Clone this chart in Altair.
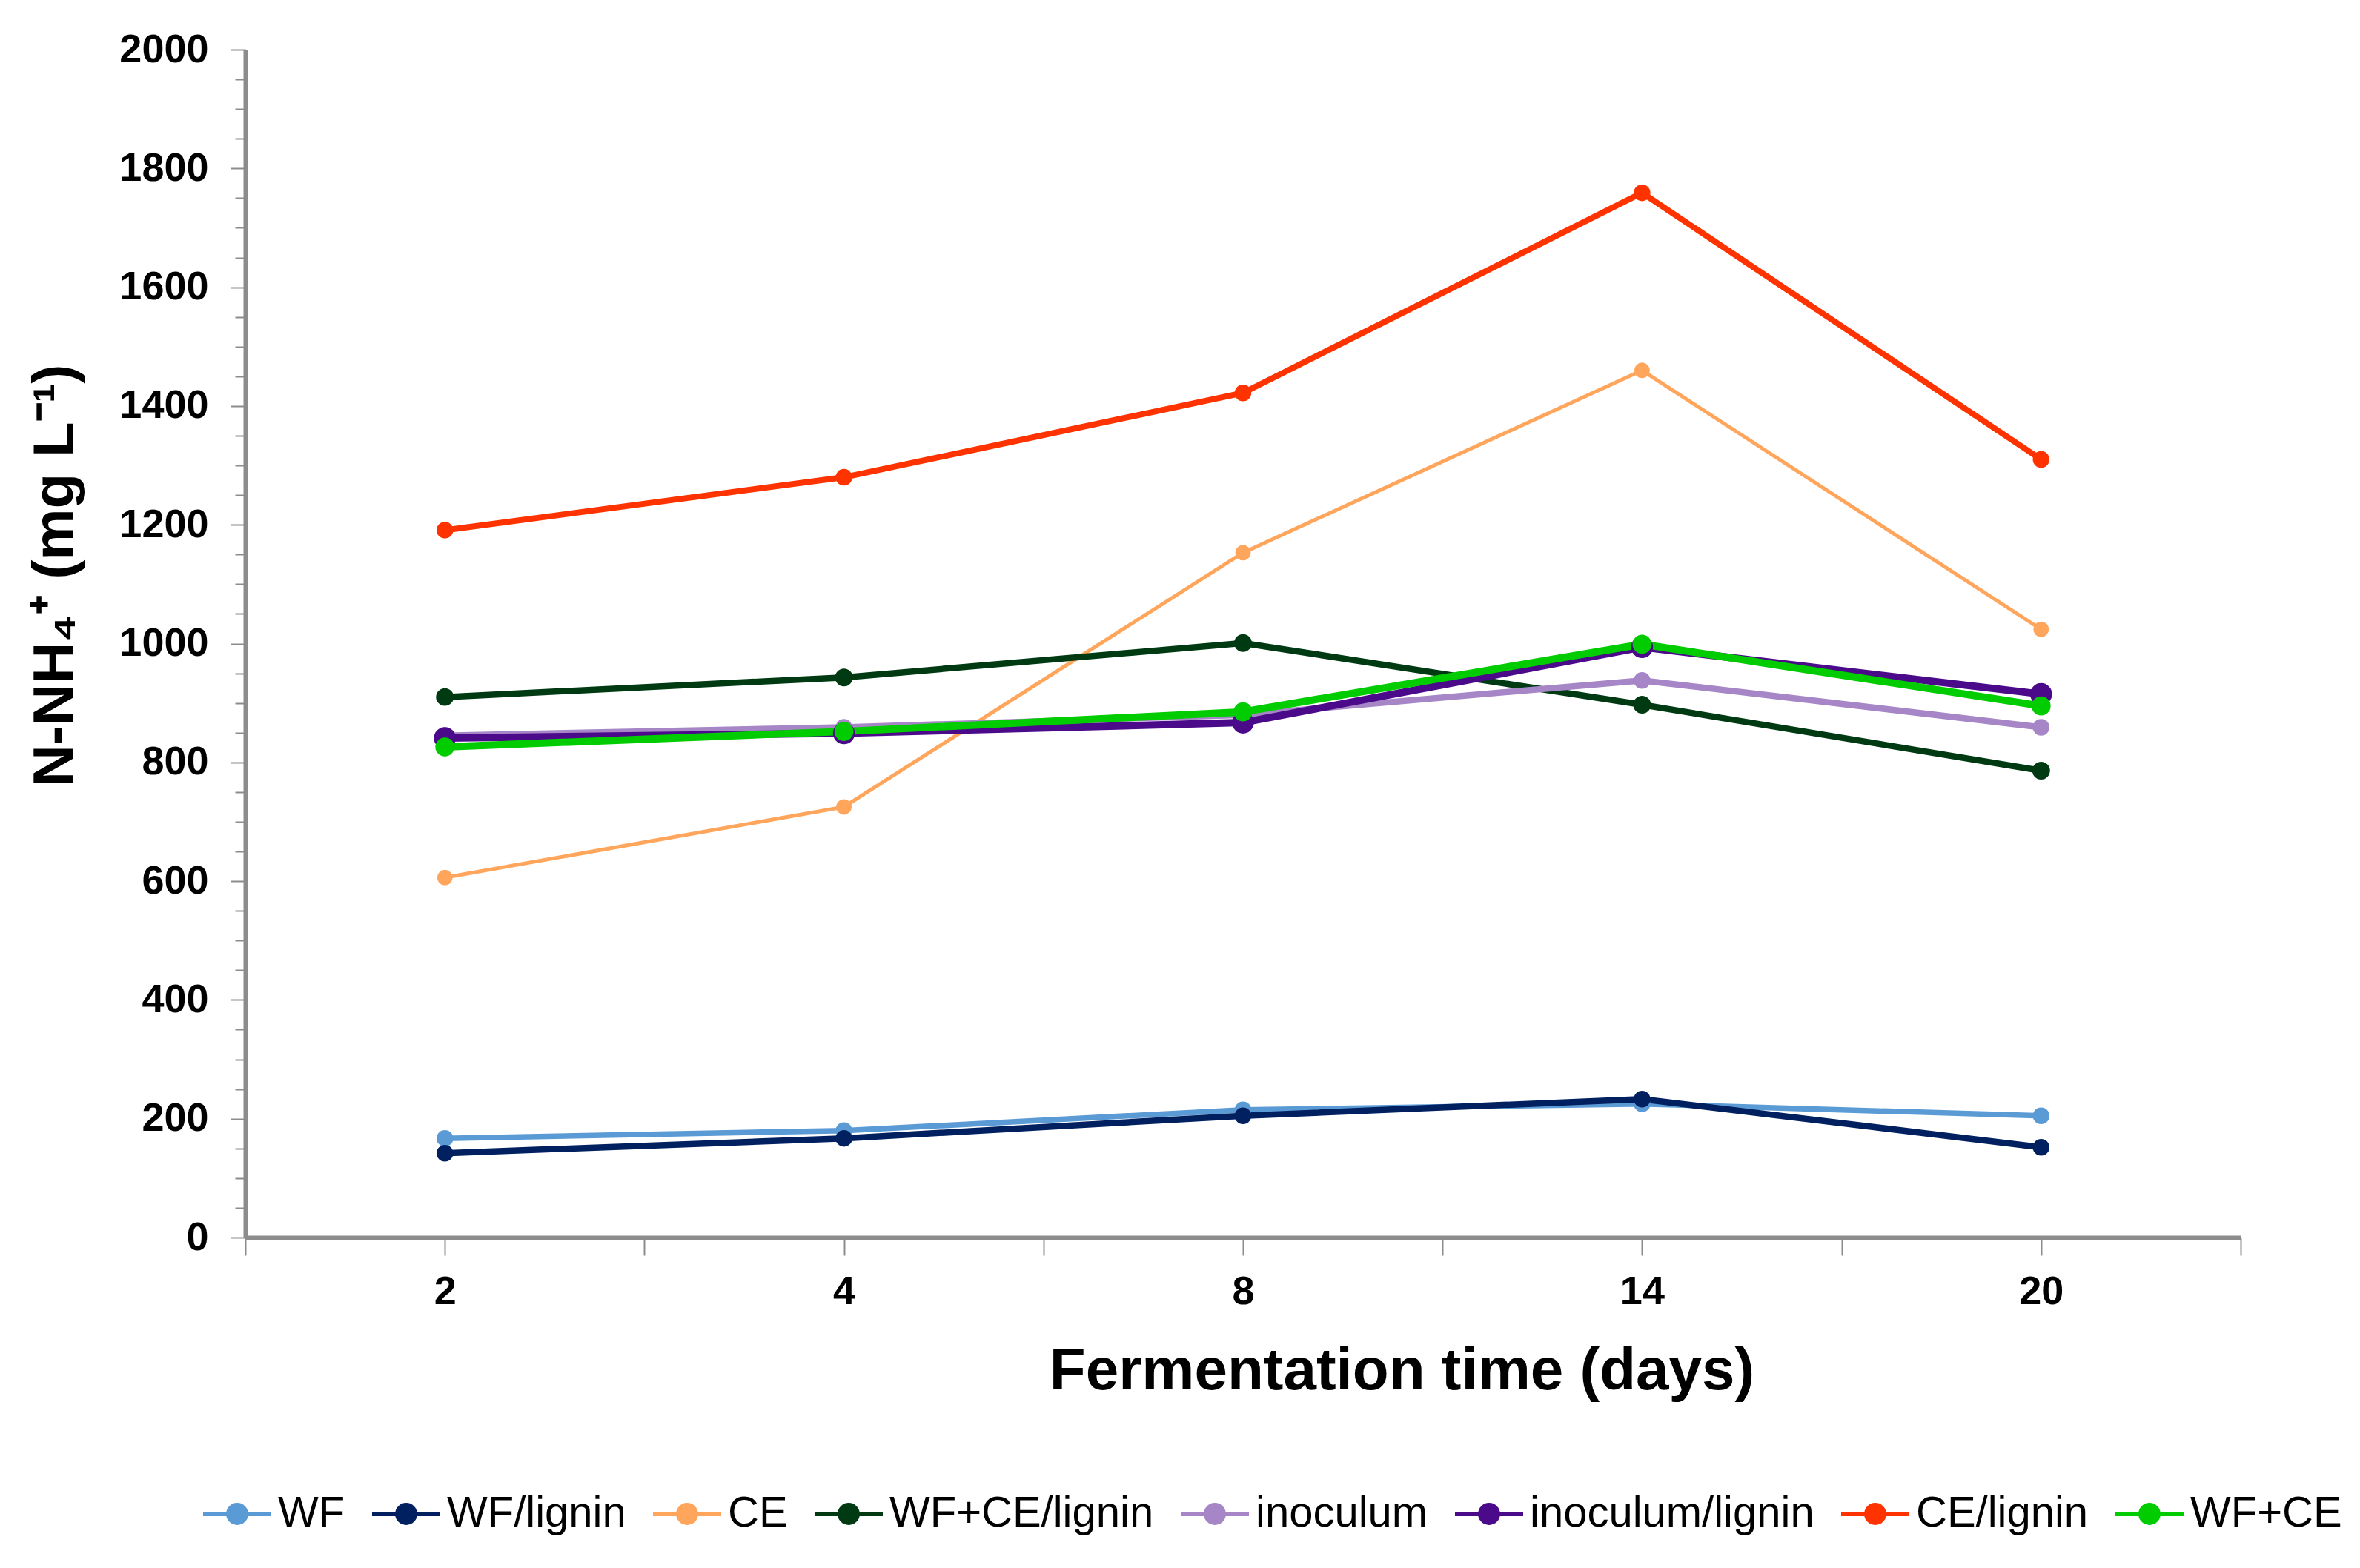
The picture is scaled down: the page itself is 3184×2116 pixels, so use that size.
import altair as alt
import pandas as pd

days = ["2", "4", "8", "14", "20"]
series = ["WF", "WF/lignin", "CE", "WF+CE/lignin", "inoculum",
          "inoculum/lignin", "CE/lignin", "WF+CE"]

wf = [167, 180, 215, 225, 205]
wf_lignin = [142, 167, 205, 233, 152]
ce = [606, 725, 1153, 1460, 1024]
wfce_lignin = [910, 943, 1001, 897, 786]
inoculum = [845, 859, 880, 938, 859]
inoculum_lignin = [841, 849, 867, 994, 915]
ce_lignin = [1191, 1280, 1422, 1759, 1310]
wf_ce = [826, 852, 885, 999, 895]

values = [wf, wf_lignin, ce, wfce_lignin, inoculum, inoculum_lignin, ce_lignin, wf_ce]

colors = ["#5B9BD5", "#002060", "#FFA65C", "#003A12", "#A686C6",
          "#4B0A8A", "#FF3300", "#00CC00"]
line_widths = [7.5, 8.5, 5, 8.5, 8.5, 10, 8, 10]
point_sizes = [420, 420, 360, 480, 420, 760, 420, 560]

rows = []
for k, (s, vals) in enumerate(zip(series, values)):
    for i, (d, v) in enumerate(zip(days, vals)):
        rows.append({"series": s, "day": d, "idx": i, "value": v, "order": k,
                     "lw": line_widths[k], "ps": point_sizes[k]})
df = pd.DataFrame(rows)

FONT = "Liberation Sans"
label_expr = "[" + ",".join("'%s'" % d for d in days) + "][round(datum.value)]"

legend_path = "M-1,0H1M-0.26,0A0.26,0.26,0,1,1,0.26,0A0.26,0.26,0,1,1,-0.26,0Z"

color_scale = alt.Scale(domain=series, range=colors)
xscale = alt.Scale(domain=[-0.5, 4.5], nice=False, zero=False)
yscale = alt.Scale(domain=[0, 2000], nice=False)


def make_legend():
    return alt.Legend(
        title=None, orient="none", legendX=-60, legendY=1927,
        direction="horizontal", columns=8, columnPadding=24,
        symbolType=legend_path, symbolSize=8464, labelLimit=2000,
        symbolStrokeWidth=6, labelFont=FONT, labelFontSize=58,
        labelColor="black", labelOffset=6, symbolOpacity=1)


base = alt.Chart(df)

lines = base.mark_line().encode(
    x=alt.X("idx:Q", scale=xscale,
            axis=alt.Axis(values=[0, 1, 2, 3, 4], labelExpr=label_expr,
                          title="Fermentation time (days)", orient="bottom",
                          grid=False, domainColor="#8C8C8C", domainWidth=6,
                          tickColor="#8C8C8C", tickWidth=2, tickSize=24,
                          labelPadding=22, labelFont=FONT, labelFontSize=54,
                          labelFontWeight="bold", labelColor="black",
                          titleFont=FONT, titleFontSize=80, titleFontWeight="bold",
                          titleColor="black", titleX=1560, titleY=180,
                          titleAlign="center", titleBaseline="middle",
                          titleAnchor="start")),
    y=alt.Y("value:Q", scale=yscale,
            axis=alt.Axis(values=list(range(0, 2001, 200)), orient="left",
                          format="d",
                          title="N-NH₄⁺ (mg L⁻¹)", grid=False,
                          domainColor="#8C8C8C", domainWidth=6,
                          tickColor="#8C8C8C", tickWidth=2, tickSize=20,
                          labelPadding=30, labelFont=FONT, labelFontSize=54,
                          labelFontWeight="bold", labelColor="black",
                          titleFont=FONT, titleFontSize=78, titleFontWeight="bold",
                          titleColor="black", titleAngle=270, titleX=-256,
                          titleY=709, titleAlign="center", titleBaseline="middle",
                          titleAnchor="start")),
    stroke=alt.Stroke("series:N", scale=color_scale, sort=series, legend=make_legend()),
    strokeWidth=alt.StrokeWidth("lw:Q", scale=None),
    detail="series:N",
    order=alt.Order("idx:Q"),
)

points = base.mark_point(filled=True, opacity=1, strokeWidth=2).encode(
    x=alt.X("idx:Q", scale=xscale,
            axis=alt.Axis(values=[-0.5, 0.5, 1.5, 2.5, 3.5, 4.5], orient="bottom",
                          labels=False, domain=False, grid=False, title=None,
                          tickColor="#8C8C8C", tickWidth=2, tickSize=24)),
    y=alt.Y("value:Q", scale=yscale,
            axis=alt.Axis(values=[v for v in range(0, 2001, 50) if v % 200 != 0],
                          orient="left", labels=False, domain=False, grid=False,
                          title=None, tickColor="#8C8C8C", tickWidth=2, tickSize=14)),
    fill=alt.Fill("series:N", scale=color_scale, sort=series, legend=make_legend()),
    stroke=alt.Stroke("series:N", scale=color_scale, sort=series, legend=make_legend()),
    size=alt.Size("ps:Q", scale=None),
)

chart = alt.layer(lines, points).resolve_axis(
    x="independent", y="independent"
).resolve_scale(x="shared", y="shared").properties(
    width=2692, height=1603,
    autosize=alt.AutoSizeParams(type="none"),
    padding={"left": 323, "top": 59, "right": 153, "bottom": 438},
    background="white",
).configure_view(stroke=None)

chart.save("out.html", embed_options={"renderer": "svg", "actions": False})
